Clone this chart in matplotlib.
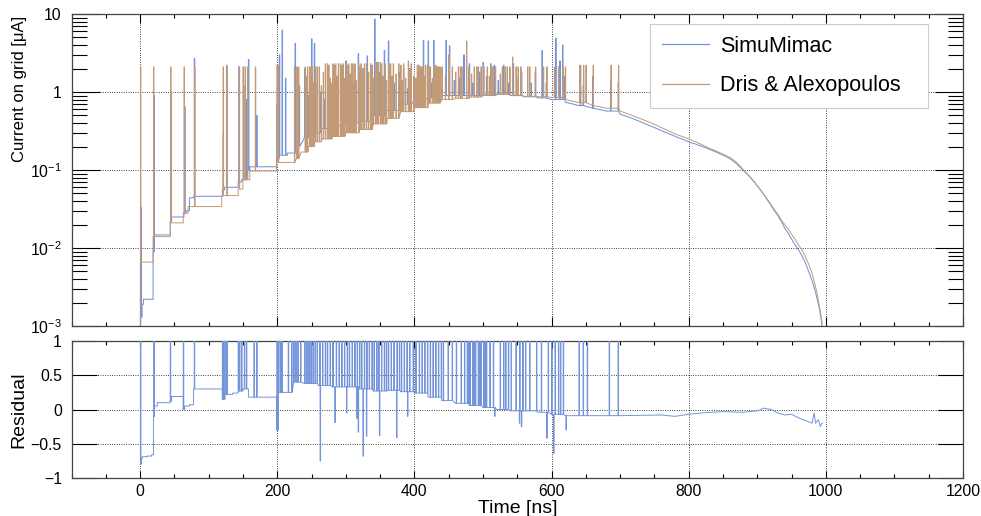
import numpy as np
import matplotlib
matplotlib.use("Agg")
import matplotlib.pyplot as plt
from matplotlib.ticker import FixedLocator, FixedFormatter, MultipleLocator
from matplotlib.lines import Line2D

plt.rcParams['font.family'] = ['Liberation Sans', 'DejaVu Sans']
plt.rcParams['mathtext.default'] = 'regular'

# ---------------- data ----------------
# baseline of SimuMimac current (time ns, current uA)
sim_knots = [(0, 0.0005), (0.8, 0.0016), (2, 0.0013), (3, 0.0019), (5, 0.0022), (19, 0.009), (21, 0.0147),
             (44, 0.022), (46, 0.025), (64, 0.028), (67, 0.030), (72, 0.044), (78, 0.046), (120, 0.055),
             (123, 0.060), (143, 0.070), (148, 0.075), (156, 0.10), (160, 0.11), (199, 0.14), (203, 0.155),
             (215, 0.165), (228, 0.20), (240, 0.26), (255, 0.30), (265, 0.34), (280, 0.37), (300, 0.40),
             (320, 0.42), (340, 0.50), (360, 0.58), (380, 0.70), (400, 0.78), (420, 0.85), (440, 0.90),
             (460, 0.90), (480, 0.90), (500, 0.92), (520, 0.94), (540, 0.90), (560, 0.87), (580, 0.84),
             (600, 0.80), (620, 0.74), (640, 0.67), (660, 0.62), (680, 0.57), (700, 0.52), (710, 0.485),
             (720, 0.45), (730, 0.415), (740, 0.38), (750, 0.35), (760, 0.32), (770, 0.295), (780, 0.27),
             (790, 0.25), (800, 0.23), (810, 0.215), (820, 0.20), (830, 0.185), (840, 0.17), (850, 0.155),
             (860, 0.14), (865, 0.13), (870, 0.12), (875, 0.108), (880, 0.098), (885, 0.089), (890, 0.080),
             (895, 0.071), (900, 0.063), (905, 0.055), (910, 0.048), (915, 0.041), (920, 0.035), (925, 0.030),
             (930, 0.026), (935, 0.022), (940, 0.018), (945, 0.0155), (950, 0.013), (955, 0.011), (960, 0.0095),
             (965, 0.008), (970, 0.0065), (975, 0.005), (980, 0.0038), (985, 0.0027), (988, 0.0021),
             (991, 0.0016), (994, 0.0011), (996, 0.0005)]

# baseline of Dris & Alexopoulos current
dris_knots = [(0, 0.0005), (0.3, 0.0066), (19, 0.014), (44, 0.021), (63, 0.028), (70, 0.034), (119, 0.047),
              (143, 0.057), (150, 0.075), (160, 0.097), (199, 0.125), (228, 0.14), (235, 0.17), (245, 0.20),
              (255, 0.23), (265, 0.25), (280, 0.27), (300, 0.30), (320, 0.33), (340, 0.39), (360, 0.46),
              (380, 0.56), (400, 0.63), (420, 0.72), (440, 0.80), (460, 0.83), (480, 0.86), (500, 0.90),
              (520, 0.94), (540, 0.91), (560, 0.88), (580, 0.87), (600, 0.85), (620, 0.80), (640, 0.73),
              (660, 0.67), (680, 0.62), (700, 0.57), (710, 0.53), (720, 0.49), (730, 0.455), (740, 0.42),
              (750, 0.385), (760, 0.35), (770, 0.32), (780, 0.29), (790, 0.27), (800, 0.25), (810, 0.23),
              (820, 0.21), (830, 0.19), (840, 0.175), (850, 0.16), (860, 0.145), (865, 0.135), (870, 0.125),
              (875, 0.112), (880, 0.10), (885, 0.09), (890, 0.081), (895, 0.072), (900, 0.063), (905, 0.055),
              (910, 0.048), (915, 0.042), (920, 0.036), (925, 0.031), (930, 0.027), (935, 0.023), (940, 0.020),
              (945, 0.0175), (950, 0.015), (955, 0.013), (960, 0.011), (965, 0.0095), (970, 0.0078),
              (975, 0.0062), (980, 0.0047), (985, 0.0032), (988, 0.0024), (991, 0.0017), (994, 0.0012),
              (996, 0.0005)]

# current spikes (time ns, peak uA)
sim_spikes = [(1, 0.033), (20, 0.9), (45, 1.0), (65, 0.65), (79, 2.7), (121, 0.3), (126, 2.2), (144, 2.1),
              (151, 1.2), (155, 0.8), (158, 2.6), (170, 0.5), (199, 0.7), (203, 3.0), (207, 6.2), (212, 1.5),
              (226, 4.2), (232, 1.2), (240, 2.0), (250, 4.8), (254, 4.2), (262, 1.0), (275, 1.5), (283, 2.2),
              (295, 1.2), (300, 2.5), (310, 1.3), (318, 3.1), (325, 2.0), (331, 2.9), (336, 1.6), (342, 8.6),
              (349, 1.8), (356, 3.4), (362, 4.5), (366, 1.5), (378, 1.8), (390, 1.1), (400, 1.5), (413, 4.6),
              (420, 4.5), (428, 4.6), (435, 1.6), (446, 4.6), (451, 3.9), (458, 1.4), (465, 1.5), (472, 3.0),
              (480, 2.3), (485, 1.3), (495, 1.8), (500, 2.4), (505, 1.6), (511, 2.3), (516, 2.2), (522, 1.4),
              (530, 2.2), (537, 1.3), (544, 2.3), (549, 1.5), (556, 1.8), (570, 1.3), (576, 1.8), (586, 3.4),
              (592, 1.3), (606, 4.9), (612, 2.5), (616, 4.0), (619, 1.6), (642, 2.2), (646, 1.2), (660, 1.6),
              (686, 1.4), (697, 1.3),
              (245, 0.9), (258, 1.3), (268, 0.8), (287, 1.0), (304, 0.9), (314, 1.1), (345, 1.2), (370, 1.3),
              (384, 2.0), (395, 1.2), (406, 2.2), (424, 1.3), (440, 1.2)]

dris_spikes = [(0.5, 2.1), (19.5, 2.1), (44.5, 2.1), (64, 2.1), (79.5, 2.1), (121, 2.1), (126.5, 2.1),
               (144.5, 2.1), (150, 2.1), (153, 2.1), (156.5, 2.1), (168, 2.1), (199.5, 2.2), (201.5, 2.2),
               (225, 2.1), (228.5, 2.1), (231, 2.1), (240.5, 2.1), (244, 2.1), (247, 2.1), (251, 2.1),
               (255.5, 2.1), (258, 2.1), (264, 1.2), (270, 2.3), (273, 2.3), (277, 1.5), (281, 2.3), (285, 2.3),
               (289, 2.3), (292, 2.3), (296, 2.3), (300.5, 2.3), (304, 2.3), (308, 2.3), (313, 2.3),
               (315, 1.4), (318.5, 2.3), (322, 2.3), (327, 2.3), (333, 1.8), (336, 2.3), (340, 1.5),
               (345, 2.4), (347, 2.4), (350, 2.4), (354, 1.6), (357, 2.3), (362.5, 2.3), (369, 2.3),
               (373, 1.7), (377, 2.3), (384, 2.3), (387, 1.5), (391, 2.5), (395, 2.3), (399, 1.6),
               (404, 2.2), (408, 2.1), (410, 2.1), (412, 2.1), (416, 2.2), (419, 2.2), (423, 2.1), (428.5, 2.1),
               (431, 2.2), (433, 2.1), (437, 2.1), (440, 2.1), (450, 3.0), (455, 2.1), (464, 2.1), (467, 2.1),
               (469, 2.1), (476, 4.5), (479, 2.1), (491, 2.1), (493, 2.1), (497, 2.1), (501, 2.1), (506, 2.1),
               (511.5, 2.1), (514, 2.1), (518, 2.1), (528, 2.1), (532, 2.1), (535, 2.1), (539, 2.1),
               (543, 2.8), (548, 2.1), (551, 2.1), (555, 2.1), (565, 2.1), (568, 2.1), (576.5, 2.1),
               (588, 2.1), (593, 2.1), (604, 2.1), (610, 2.1), (616.5, 2.1), (620, 2.1), (641, 2.2),
               (646.5, 2.2), (650, 2.2), (660.5, 2.2), (686.5, 2.2), (697.5, 2.2),
               (242, 1.6), (249, 2.1), (253, 1.3), (261, 2.1), (267, 1.8), (275, 2.2), (279, 1.3),
               (283, 2.0), (287, 1.6), (294, 2.2), (298, 1.5), (302, 2.2), (306, 1.7), (310, 2.3),
               (311.5, 1.2), (320, 2.1), (325, 1.9), (330, 2.3), (338, 2.2), (343, 1.9), (352, 2.3),
               (359, 1.4), (365, 2.3), (367, 1.6), (380, 2.2), (382, 1.4), (393, 2.0), (402, 1.5),
               (406, 2.2), (414, 1.6), (421, 2.1), (426, 1.5), (435, 2.1), (445, 1.6), (460, 1.8),
               (483, 1.7), (487, 2.1), (509, 1.6), (525, 1.7)]

# residual baseline (time ns, residual)
res_knots = [(0, -0.8), (1.5, -0.72), (3, -0.69), (10, -0.68), (17, -0.66), (19.5, -0.1), (21, 0.05), (25, 0.1),
             (44, 0.12), (46, 0.19), (63, 0.0), (65, 0.05), (72, 0.07), (78, 0.3), (120, 0.15), (124, 0.22),
             (135, 0.24), (143, 0.27), (150, 0.3), (158, 0.18), (199, -0.3), (201, 0.25), (224, 0.4),
             (240, 0.38), (260, 0.35), (280, 0.33), (300, 0.33), (320, 0.3), (340, 0.27), (360, 0.28),
             (380, 0.26), (400, 0.24), (420, 0.18), (440, 0.13), (460, 0.09), (480, 0.06), (500, 0.03),
             (520, 0.0), (540, -0.02), (560, -0.02), (580, -0.04), (600, -0.07), (620, -0.09), (700, -0.09),
             (760, -0.08), (780, -0.1), (800, -0.07), (820, -0.05), (850, -0.03), (880, -0.04), (900, -0.02),
             (905, 0.0), (910, 0.02), (920, 0.0), (930, -0.05), (940, -0.08), (950, -0.07), (960, -0.12),
             (970, -0.16), (980, -0.2), (983, -0.05), (985, -0.2), (989, -0.15), (992, -0.25), (994, -0.2),
             (995, -0.2)]

# residual spikes that run off the top of the panel (times, ns)
res_up_t = [0.5, 20, 44, 63, 79, 120, 122, 125, 126.5, 143, 145, 148, 152, 155, 166, 170, 199.5, 200.5, 202, 205,
            207, 224, 227, 230, 234, 243, 246, 249, 252, 255, 258, 262, 266, 270, 273, 277, 281, 286, 290,
            294, 298, 302, 305, 309, 313, 316.5, 320, 323, 327, 330.5, 334, 338, 341, 345, 348, 352, 356, 359,
            362, 366, 370, 374.5, 378, 381, 385, 389, 393, 398, 402, 407, 411, 415, 419, 423, 427, 431,
            435, 439, 442, 449, 455, 461, 473, 477, 481, 485, 489, 493, 497, 501, 505, 510, 525, 530, 537,
            541, 548, 553.5, 562, 568, 578, 595, 600, 605, 610, 617, 640, 646, 652, 684, 697,
            216, 221, 240, 468, 479, 487, 495, 503, 515, 533, 558, 585, 613]
# residual spikes that go downwards (time ns, residual)
res_dn = [(200, -0.3), (262.5, -0.75), (284, -0.19), (301, -0.05), (316, -0.13), (318, -0.33), (325, -0.68),
          (330, -0.39), (349, -0.38), (374, -0.41), (390, -0.1), (517, -0.1), (553, -0.2), (556, -0.25),
          (593, -0.42), (603, -0.64), (621, -0.3)]
RES_TOP = 1.0  # clipped top of residual axis

x_ticks = [0, 200, 400, 600, 800, 1000, 1200]
y1_ticks = [1e-3, 1e-2, 1e-1, 1, 10]
y1_labels = ['$10^{\u22123}$', '$10^{\u22122}$', '$10^{\u22121}$', '1', '10']
y2_ticks = [-1, -0.5, 0, 0.5, 1]
y2_labels = ['\u22121', '\u22120.5', '0', '0.5', '1']

BLUE = '#7394da'
BROWN = '#c39a76'
T_SMOOTH = 215.0   # after this time the baseline is drawn as a smooth curve
SPIKE_W = 0.7


def build(knots, spikes, w=SPIKE_W, t_smooth=T_SMOOTH):
    """Path through baseline knots with vertical spikes inserted."""
    ev = [(t, 0, v) for t, v in knots] + [(t, 1, h) for t, h in spikes]
    ev.sort(key=lambda e: (e[0], e[1]))
    xs, ys = [], []
    for t, kind, v in ev:
        if not xs:
            xs.append(t); ys.append(v)
            continue
        if kind == 0:
            if t <= t_smooth:
                xs.append(t); ys.append(ys[-1])
            xs.append(t); ys.append(v)
        else:
            base = ys[-1]
            xs += [t, t, t + w, t + w]
            ys += [base, v, v, base]
    return np.array(xs), np.array(ys)


sim_t, sim_v = build(sim_knots, sim_spikes)
dris_t, dris_v = build(dris_knots, dris_spikes)
res_spikes = [(t, RES_TOP) for t in res_up_t] + res_dn
res_t, res_v = build(res_knots, res_spikes)

# ---------------- figure ----------------
W, H = 981, 516
fig = plt.figure(figsize=(W / 100, H / 100), dpi=100)
L, R = 71.5, 963
ax1 = fig.add_axes([L / W, 1 - 326 / H, (R - L) / W, 312 / H])
ax2 = fig.add_axes([L / W, 1 - 478 / H, (R - L) / W, 137 / H])

grid_kw = dict(color='black', linestyle=(0, (1, 1.8)), linewidth=0.6)

# top panel
ax1.plot(sim_t, sim_v, color=BLUE, lw=0.75, label='SimuMimac', zorder=3)
ax1.plot(dris_t, dris_v, color=BROWN, lw=0.7, label='Dris & Alexopoulos', zorder=3)
ax1.set_yscale('log')
ax1.set_xlim(-100, 1200)
ax1.set_ylim(1e-3, 10)
ax1.xaxis.set_major_locator(FixedLocator(x_ticks))
ax1.xaxis.set_minor_locator(MultipleLocator(50))
ax1.yaxis.set_major_locator(FixedLocator(y1_ticks))
ax1.yaxis.set_major_formatter(FixedFormatter(y1_labels))
ax1.yaxis.set_minor_locator(matplotlib.ticker.LogLocator(base=10, subs=np.arange(2, 10), numticks=20))
ax1.yaxis.set_minor_formatter(matplotlib.ticker.NullFormatter())
ax1.tick_params(axis='y', which='major', direction='in', length=20, width=0.8, right=True, pad=7, labelsize=11.3)
ax1.tick_params(axis='y', which='minor', direction='in', length=10.8, width=0.8, right=True)
ax1.tick_params(axis='x', which='major', direction='in', length=6.5, width=0.8, top=True, labelbottom=False)
ax1.tick_params(axis='x', which='minor', direction='in', length=3.2, width=0.8, top=True)
ax1.grid(True, which='major', **grid_kw)
ax1.set_ylabel('Current on grid [\u03bcA]', fontsize=12)
ax1.yaxis.set_label_coords(-0.050, 0.76)

handles = [Line2D([], [], color=BLUE, lw=0.9), Line2D([], [], color=BROWN, lw=0.9)]
leg = ax1.legend(handles, ['SimuMimac', 'Dris & Alexopoulos'], loc='upper left',
                 bbox_to_anchor=(0.649, 0.968, 0.312, 0.0), mode='expand', fontsize=15.5,
                 frameon=True, fancybox=False, framealpha=1, edgecolor='#cccccc',
                 handlelength=2.2, handletextpad=0.5, labelspacing=0.85, borderpad=0.55, borderaxespad=0)
leg.get_frame().set_linewidth(0.8)

# bottom panel
ax2.plot(res_t, res_v, color=BLUE, lw=0.7, zorder=3)
ax2.set_xlim(-100, 1200)
ax2.set_ylim(-1, 1)
ax2.xaxis.set_major_locator(FixedLocator(x_ticks))
ax2.xaxis.set_minor_locator(MultipleLocator(50))
ax2.yaxis.set_major_locator(FixedLocator(y2_ticks))
ax2.yaxis.set_major_formatter(FixedFormatter(y2_labels))
ax2.tick_params(axis='y', which='major', direction='in', length=18, width=0.8, right=True, pad=7, labelsize=11.3)
ax2.tick_params(axis='x', which='major', direction='in', length=5, width=0.8, top=True, pad=4, labelsize=11.3)
ax2.tick_params(axis='x', which='minor', direction='in', length=2.9, width=0.8, top=True)
ax2.grid(True, which='major', **grid_kw)
ax2.set_ylabel('Residual', fontsize=14)
ax2.yaxis.set_label_coords(-0.050, 0.5)
ax2.set_xlabel('Time [ns]', fontsize=14)
ax2.xaxis.set_label_coords(0.501, -0.158)

for ax in (ax1, ax2):
    for s in ax.spines.values():
        s.set_linewidth(0.9)
        s.set_color('#444444')

fig.savefig('out.png', dpi=100)
